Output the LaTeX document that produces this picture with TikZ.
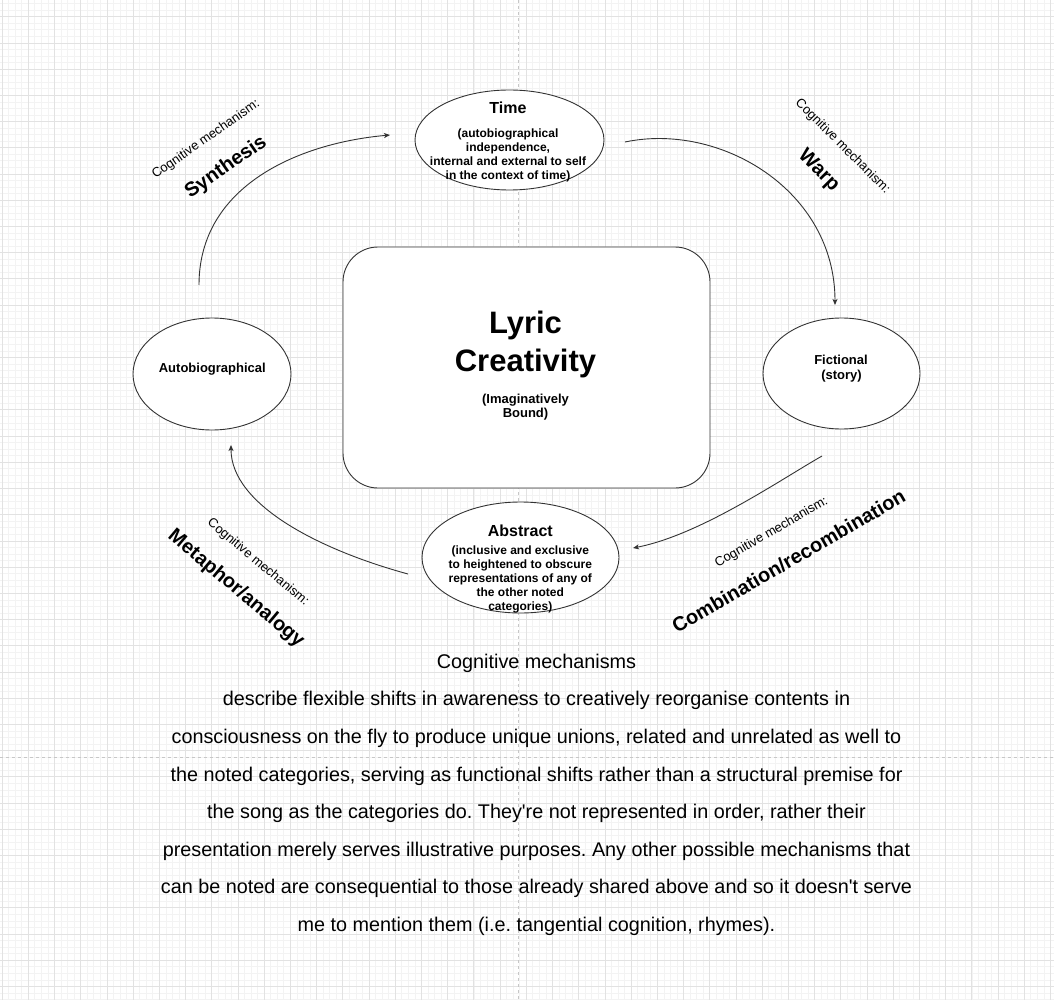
\documentclass[tikz,border=0pt]{standalone}
\usepackage{fontspec}
\setmainfont{Liberation Sans}
\newfontfamily\plainsans{Liberation Sans}
\usetikzlibrary{shapes.geometric,arrows.meta}
\definecolor{gridminor}{HTML}{F3F3F3}
\definecolor{gridmajor}{HTML}{E2E2E2}
\definecolor{inkline}{HTML}{333333}
\newcommand\myfs[2]{\fontsize{#1}{#2}\selectfont}
\frenchspacing
\begin{document}
\begin{tikzpicture}[x=1pt,y=-1pt,
  minorgrid/.style={draw=gridminor, line width=0.75pt},
  majorgrid/.style={draw=gridmajor, line width=0.8pt},
  pagebreak/.style={draw=black!22, line width=0.8pt, dash pattern=on 3pt off 3pt},
  catellipse/.style={ellipse, draw=inkline, fill=white, line width=0.9pt, inner sep=0pt},
  corebox/.style={rectangle, rounded corners=35pt, draw=inkline, fill=white, line width=0.9pt, inner sep=0pt},
  flow/.style={draw=inkline, line width=0.9pt, -{Stealth[length=6pt,width=5pt,inset=1.5pt]}},
  txt/.style={inner sep=0pt, anchor=base},
  subtxt/.style={txt, font=\bfseries\myfs{12}{12}},
  mechsmall/.style={inner sep=0pt, font=\myfs{13}{13}},
  mechbig/.style={inner sep=0pt, font=\bfseries\myfs{20}{20}},
  bodytxt/.style={txt, font=\plainsans\frenchspacing\myfs{19.8}{19.8}}
]
\fill[white] (0,0) rectangle (1054,1000);
\useasboundingbox (0,0) rectangle (1054,1000);
% grid
\foreach \i in {0,...,160} \draw[minorgrid] ({2.1+6.5525*\i},0) -- ++(0,1000);
\foreach \j in {0,...,152} \draw[minorgrid] (0,{3.595+6.5525*\j}) -- ++(1054,0);
\foreach \i in {0,...,40} \draw[majorgrid] ({2.1+26.21*\i},0) -- ++(0,1000);
\foreach \j in {0,...,37} \draw[majorgrid] (0,{16.7+26.21*\j}) -- ++(1054,0);
\draw[pagebreak] (518.5,0) -- (518.5,1000);
\draw[pagebreak] (0,757) -- (1054,757);

% shapes
\node[corebox, minimum width=367pt, minimum height=241pt] (core) at (526.5,367.5) {};
\node[catellipse, minimum width=189pt, minimum height=100pt] (time) at (509.5,140) {};
\node[catellipse, minimum width=158pt, minimum height=112pt] (auto) at (212,374) {};
\node[catellipse, minimum width=157pt, minimum height=111pt] (fict) at (841.5,373.5) {};
\node[catellipse, minimum width=197pt, minimum height=111pt] (abst) at (520.5,557.5) {};

% central text
\node[txt, font=\bfseries\myfs{31}{31}] (coreA) at (525.5,333.3) {Lyric};
\node[txt, font=\bfseries\myfs{31}{31}] (coreB) at (525.5,371) {Creativity};
\node[txt, font=\bfseries\myfs{13}{13}] (coreC) at (525.5,403.3) {(Imaginatively};
\node[txt, font=\bfseries\myfs{13}{13}] (coreD) at (525.5,417.7) {Bound)};

% time text
\node[txt, font=\bfseries\myfs{16}{16}] (timeT) at (508,114) {Time};
\node[subtxt] (timeA) at (508,138) {(autobiographical};
\node[subtxt] (timeB) at (508,152) {independence,};
\node[subtxt] (timeC) at (508,166) {internal and external to self};
\node[subtxt] (timeD) at (508,180) {in the context of time)};

% side texts
\node[txt, font=\bfseries\myfs{13}{13}] (autoT) at (212.3,372.5) {Autobiographical};
\node[txt, font=\bfseries\myfs{13}{13}] (fictA) at (841,364) {Fictional};
\node[txt, font=\bfseries\myfs{13}{13}] (fictB) at (841.5,379.3) {(story)};

% abstract text
\node[txt, font=\bfseries\myfs{16}{16}] (abstT) at (520.3,536) {Abstract};
\node[subtxt] (abstA) at (520.3,554) {(inclusive and exclusive};
\node[subtxt] (abstB) at (520.3,568) {to heightened to obscure};
\node[subtxt] (abstC) at (520.3,582) {representations of any of};
\node[subtxt] (abstD) at (520.3,596) {the other noted};
\node[subtxt] (abstE) at (520.3,610) {categories)};

% connectors
\coordinate (synS) at (199,285);
\coordinate (synE) at (390,135);
\draw[flow] (synS) .. controls (199,185) and (300,143) .. (synE);
\coordinate (warS) at (625,142);
\coordinate (warE) at (835,305);
\draw[flow] (warS) .. controls (720,122) and (835,190) .. (warE);
\coordinate (comS) at (822,456);
\coordinate (comE) at (633,548);
\draw[flow] (comS) .. controls (780,480) and (700,535) .. (comE);
\coordinate (metS) at (408,574);
\coordinate (metE) at (231,445);
\draw[flow] (metS) .. controls (320,550) and (231,505) .. (metE);

% mechanism labels
\node[mechsmall, rotate=35] (synC) at (206,139.5) {Cognitive mechanism:};
\node[mechbig, rotate=35] (synB) at (226,167.5) {Synthesis};
\node[mechsmall, rotate=-45] (warC) at (842.5,146.5) {Cognitive mechanism:};
\node[mechbig, rotate=-45] (warB) at (818.5,171) {Warp};
\node[mechsmall, rotate=-40] (metC) at (258,562.5) {Cognitive mechanism:};
\node[mechbig, rotate=-40] (metB) at (236,589) {Metaphor/analogy};
\node[mechsmall, rotate=30] (comC) at (771.5,532.5) {Cognitive mechanism:};
\node[mechbig, rotate=30] (comB) at (788.5,561) {Combination/recombination};

% bottom paragraph
\node[bodytxt] (body1) at (536.5,668.3) {Cognitive mechanisms};
\node[bodytxt] (body2) at (536.5,705.9) {describe flexible shifts in awareness to creatively reorganise contents in};
\node[bodytxt] (body3) at (536.5,743.5) {consciousness on the fly to produce unique unions, related and unrelated as well to};
\node[bodytxt] (body4) at (536.5,781.1) {the noted categories, serving as functional shifts rather than a structural premise for};
\node[bodytxt] (body5) at (536.5,818.7) {the song as the categories do. They're not represented in order, rather their};
\node[bodytxt] (body6) at (536.5,856.3) {presentation merely serves illustrative purposes. Any other possible mechanisms that};
\node[bodytxt] (body7) at (536.5,893.9) {can be noted are consequential to those already shared above and so it doesn't serve};
\node[bodytxt] (body8) at (536.5,931.5) {me to mention them (i.e. tangential cognition, rhymes).};
\end{tikzpicture}
\end{document}
